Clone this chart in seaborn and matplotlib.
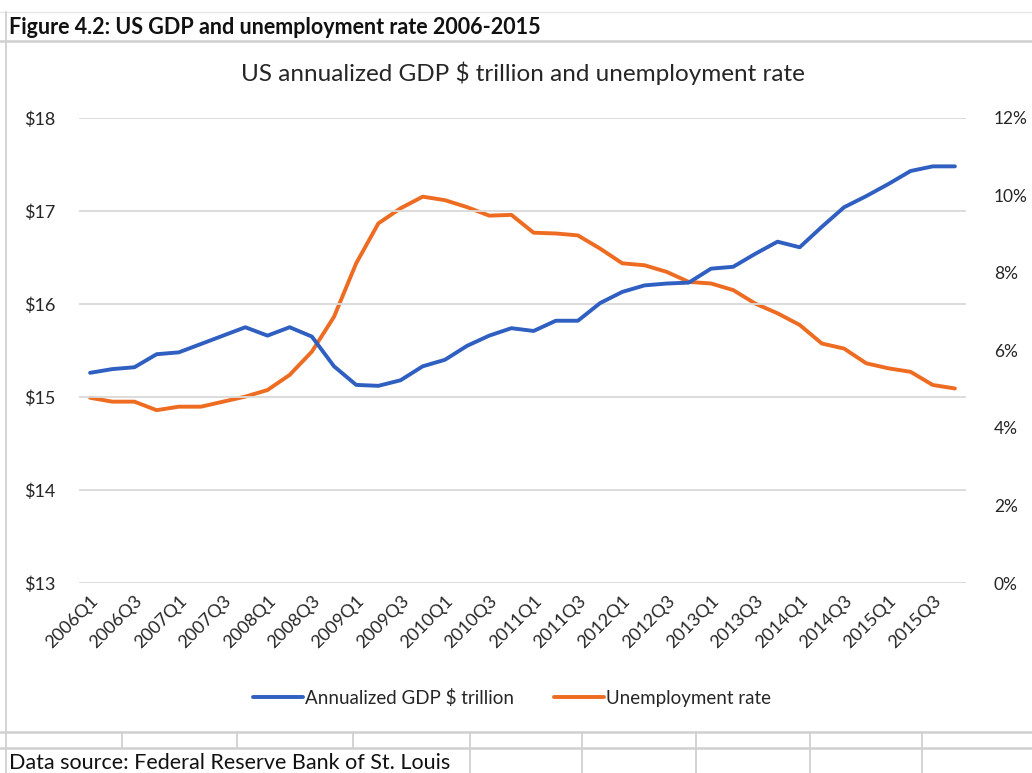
import pandas as pd
import matplotlib.pyplot as plt
import seaborn as sns
from matplotlib.lines import Line2D
from matplotlib.ticker import FuncFormatter

quarters = [f'{y}Q{q}' for y in range(2006, 2016) for q in range(1, 5)]
gdp = [15.26, 15.30, 15.32, 15.46, 15.48, 15.57, 15.66, 15.75, 15.66, 15.75,
       15.65, 15.33, 15.13, 15.12, 15.18, 15.33, 15.40, 15.55, 15.66, 15.74,
       15.71, 15.82, 15.82, 16.01, 16.13, 16.20, 16.22, 16.23, 16.38, 16.40,
       16.54, 16.67, 16.61, 16.83, 17.04, 17.16, 17.29, 17.43, 17.48, 17.48]
unemp = [4.78, 4.68, 4.68, 4.46, 4.55, 4.55, 4.68, 4.81, 4.98, 5.37,
         5.97, 6.87, 8.25, 9.28, 9.67, 9.97, 9.88, 9.70, 9.48, 9.50,
         9.04, 9.02, 8.97, 8.63, 8.25, 8.20, 8.03, 7.77, 7.73, 7.56,
         7.21, 6.96, 6.66, 6.18, 6.05, 5.67, 5.54, 5.45, 5.11, 5.02]
gdp_ticks = [13, 14, 15, 16, 17, 18]
pct_ticks = [0, 2, 4, 6, 8, 10, 12]

df = pd.DataFrame({'quarter': quarters, 'gdp': gdp, 'unemp': unemp})

sns.set_theme(style='white')
plt.rcParams['font.family'] = ['Lato', 'DejaVu Sans']
txt = '#262626'

fig = plt.figure(figsize=(10.32, 7.73), dpi=100)
ax = fig.add_axes([79/1032, 1-583/773, (966-79)/1032, (583-118)/773])
ax2 = ax.twinx()

blue = '#2f5fc0'
orange = '#ee6b22'
sns.lineplot(data=df, x='quarter', y='gdp', ax=ax, color=blue, linewidth=2.8,
             sort=False, label='Annualized GDP $ trillion', legend=False)
sns.lineplot(data=df, x='quarter', y='unemp', ax=ax2, color=orange, linewidth=2.8,
             sort=False, label='Unemployment rate', legend=False)

ax.set_xlim(-0.5, len(quarters) - 0.5)
ax.set_ylim(13, 18)
ax.set_yticks(gdp_ticks)
ax.yaxis.set_major_formatter(FuncFormatter(lambda v, p: f'${v:.0f}'))
ax2.set_ylim(0, 12)
ax2.set_yticks(pct_ticks)
ax2.yaxis.set_major_formatter(FuncFormatter(lambda v, p: f'{v:.0f}%'))

ax.set_xticks(range(0, len(quarters), 2))
ax.set_xticklabels(quarters[::2], rotation=45, ha='right', rotation_mode='anchor')
ax.tick_params(axis='x', length=0, pad=7, labelsize=13, colors=txt)
ax.tick_params(axis='y', length=0, pad=17, labelsize=13, colors=txt)
ax2.tick_params(axis='y', length=0, pad=20, labelsize=12.5, colors=txt)

ax.set_xlabel('')
ax.set_ylabel('')
ax2.set_ylabel('')
ax.grid(axis='y', color='#d9d9d9', linewidth=1.3)
ax.grid(axis='x', visible=False)
ax2.grid(False)
for a in (ax, ax2):
    for s in a.spines.values():
        s.set_visible(False)
ax.set_zorder(ax2.get_zorder() + 1)
ax.patch.set_visible(False)

fig.text(523/1032, 1-73/773, 'US annualized GDP $ trillion and unemployment rate',
         ha='center', va='center', fontsize=17.5, color=txt)

h1, l1 = ax.get_legend_handles_labels()
h2, l2 = ax2.get_legend_handles_labels()
fig.legend(h1 + h2, l1 + l2, loc='center', bbox_to_anchor=(512/1032, 1-698/773),
           ncol=2, frameon=False, fontsize=13.5, handlelength=2.7,
           handletextpad=0.1, columnspacing=2.1, labelcolor=txt)

# spreadsheet frame around the chart
grey = '#d0d0d0'
def hline(y, x0=0, x1=1032, lw=1.8, c=grey):
    fig.add_artist(Line2D([x0/1032, x1/1032], [1-y/773, 1-y/773], color=c, lw=lw))
def vline(x, y0, y1, lw=1.3, c=grey):
    fig.add_artist(Line2D([x/1032, x/1032], [1-y0/773, 1-y1/773], color=c, lw=lw))

hline(12, lw=1.0, c='#e6e6e6')
hline(41)
hline(732)
hline(748)
vline(6, 12, 773)
for x in [122, 237, 353]:
    vline(x, 732, 748)
for x in [470, 582, 696, 810, 922]:
    vline(x, 732, 773)

fig.text(9/1032, 1-27/773, 'Figure 4.2: US GDP and unemployment rate 2006-2015',
         ha='left', va='center', fontsize=15.5, fontweight='bold', color='#111111')
fig.text(9/1032, 1-763/773, 'Data source: Federal Reserve Bank of St. Louis',
         ha='left', va='center', fontsize=15.5, color='#111111')

fig.savefig('out.png', dpi=100)
